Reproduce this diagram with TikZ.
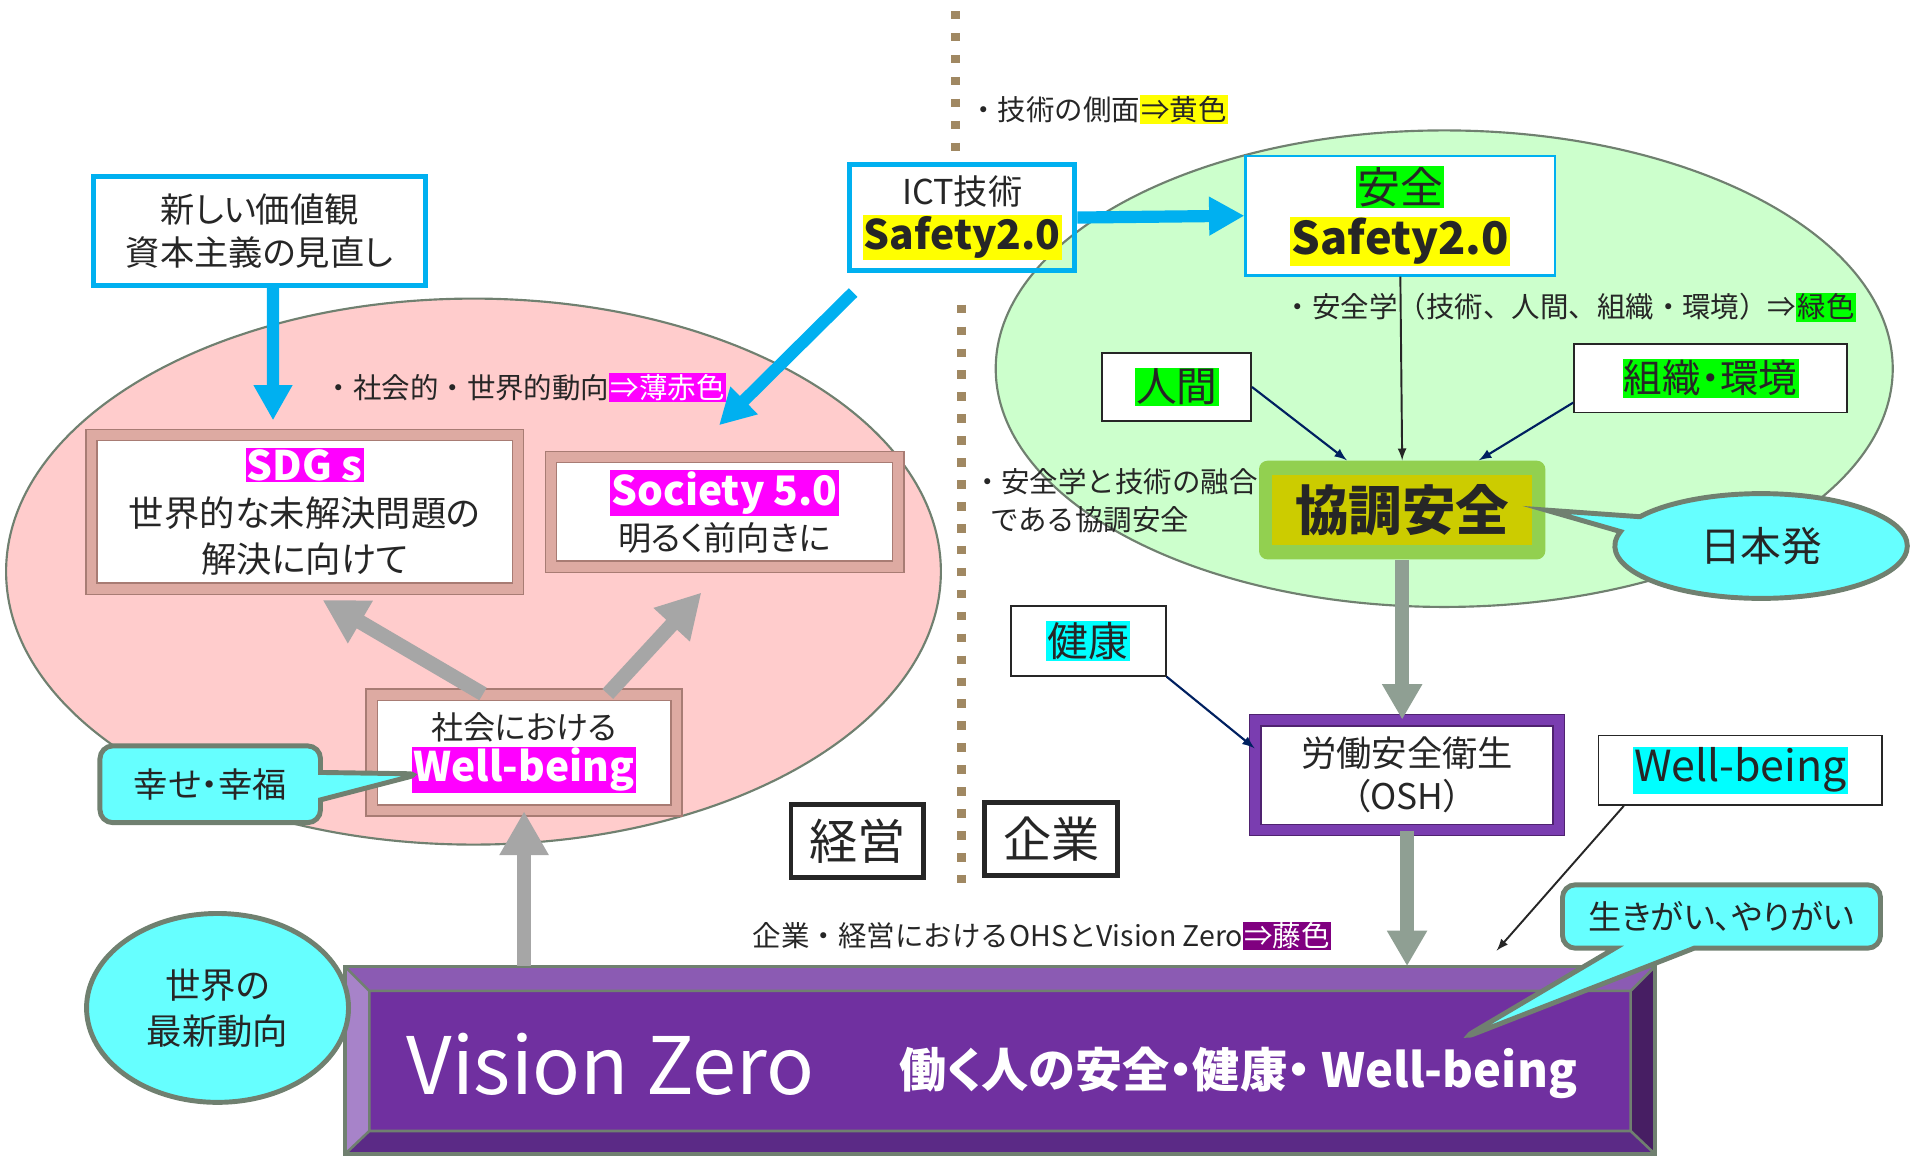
\documentclass[tikz,border=0pt]{standalone}
\usepackage{fontspec}
\setmainfont{Noto Sans CJK JP}[RawFeature=+palt]
\newfontfamily\nopalt{Noto Sans CJK JP}
\usepackage{tikz}
\usepackage{xcolor}
\usetikzlibrary{arrows.meta,shapes.geometric,shapes.callouts}

\definecolor{ink}{HTML}{262626}
\definecolor{skyblue}{HTML}{00B0F0}
\definecolor{pinkfill}{HTML}{FFCCCC}
\definecolor{greenfill}{HTML}{CCFFCC}
\definecolor{ellline}{HTML}{708070}
\definecolor{dotbrown}{HTML}{A08862}
\definecolor{rosyband}{HTML}{DDAAA2}
\definecolor{rosyedge}{HTML}{A87C74}
\definecolor{purpleband}{HTML}{7A3DB0}
\definecolor{purpleedge}{HTML}{4F2270}
\definecolor{kyogreen}{HTML}{92D050}
\definecolor{kyoolive}{HTML}{CCCC00}
\definecolor{calloutfill}{HTML}{66FFFF}
\definecolor{arrowgray}{HTML}{A6A6A6}
\definecolor{sage}{HTML}{8F9F93}
\definecolor{navy}{HTML}{002060}
\definecolor{hlyellow}{HTML}{FFFF00}
\definecolor{hlgreen}{HTML}{00FF00}
\definecolor{hlmag}{HTML}{FF00FF}
\definecolor{hlcyan}{HTML}{00FFFF}
\definecolor{hlpurple}{HTML}{800080}
\definecolor{vzface}{HTML}{7030A0}
\definecolor{vztop}{HTML}{8B5BB3}
\definecolor{vzleft}{HTML}{A783C9}
\definecolor{vzbottom}{HTML}{5B2A86}
\definecolor{vzright}{HTML}{471E63}

\newcommand{\hl}[2]{{\setlength{\fboxsep}{0.6pt}\colorbox{#1}{#2}}}
\newcommand{\fs}[2]{\fontsize{#1}{#2}\selectfont}

\tikzset{
  bluebox/.style={draw=skyblue, line width=2.3pt, align=center, text=ink},
  thinbox/.style={draw=ink, line width=0.85pt, fill=white, text=ink},
  blackbox/.style={draw=ink, line width=2.3pt, fill=white, text=ink},
  rosyframe/.style={draw=rosyedge, line width=0.7pt, double=rosyband, double distance=0.16cm, fill=white, align=center, text=ink},
  purpleframe/.style={draw=purpleedge, line width=0.7pt, double=purpleband, double distance=0.16cm, fill=white, align=center, text=ink},
  callout/.style={draw=ellline, line width=2.3pt, fill=calloutfill, text=ink, align=center},
  note/.style={text=ink, inner sep=0pt, font=\nopalt\fs{13.3}{18}},
  dotline/.style={draw=dotbrown, line width=0.14cm, dash pattern=on 0.14cm off 0.22cm},
  bluearrow/.style={draw=skyblue, line width=0.2cm, -{Triangle[length=0.58cm, width=0.6cm]}},
  grayarrow/.style={draw=arrowgray, line width=0.24cm, -{Triangle[length=0.72cm, width=0.76cm]}},
  sagearrow/.style={draw=sage, line width=0.22cm, -{Triangle[length=0.58cm, width=0.62cm]}},
  navyarrow/.style={draw=navy, line width=1pt, -latex},
  inkarrow/.style={draw=ink, line width=0.9pt, -latex}
}

\begin{document}
\begin{tikzpicture}[x=0.02cm, y=-0.02cm]
  \useasboundingbox (0,0) rectangle (1568,950);

  % background ellipses
  \draw[draw=ellline, fill=pinkfill, line width=1pt] (388.5,469) ellipse [x radius=383.5, y radius=224];
  \draw[draw=ellline, fill=greenfill, line width=1pt] (1185,302.5) ellipse [x radius=368, y radius=195.5];

  % dividing line
  \draw[dotline] (784,9) -- (784,125);
  \draw[dotline] (789,250) -- (789,727);

  % legend texts
  \node[note, anchor=west] (tech) at (795,90) {・技術の側面\hl{hlyellow}{⇒黄色}};
  \node[note, anchor=west] (social) at (266,318) {・社会的・世界的動向\hl{hlmag}{\color{white}⇒薄赤色}};
  \node[note, anchor=west] (safetysci) at (1053,252) {・安全学（技術、人間、組織・環境）⇒\hl{hlgreen}{緑色}};
  \node[note, anchor=west, align=left] (fusion) at (798,411) {・安全学と技術の融合\\\hspace{0.6em}である協調安全};
  \node[note] (ohs) at (855,768) {企業・経営におけるOHSとVision Zero\hl{hlpurple}{\color{white}⇒藤色}};

  % society side
  \node[bluebox, minimum width=5.44cm, minimum height=1.78cm, font=\fs{16}{20}] (values) at (213,189.5) {新しい価値観\\資本主義の見直し};
  \node[rosyframe, minimum width=7cm, minimum height=2.52cm, font=\fs{16.5}{21.5}] (sdgs) at (250,420)
    {{\fs{19}{22}\bfseries\hl{hlmag}{\color{white}SDG s}}\\世界的な未解決問題の\\解決に向けて};
  \node[rosyframe, minimum width=5.7cm, minimum height=1.8cm, font=\fs{15.5}{21}] (society) at (594.5,420)
    {{\fs{19}{22}\bfseries\hl{hlmag}{\color{white}Society 5.0}}\\明るく前向きに};
  \node[rosyframe, minimum width=5cm, minimum height=1.9cm, font=\fs{15}{20}] (socwb) at (430,617.5)
    {社会における\\{\fs{19}{22}\bfseries\hl{hlmag}{\color{white}Well-being}}};

  % technology side
  \node[bluebox, minimum width=3.7cm, minimum height=1.74cm, font=\fs{16}{21}] (ict) at (789.5,178.5)
    {ICT技術\\{\fs{19}{22}\bfseries\hl{hlyellow}{Safety2.0}}};
  \node[draw=skyblue, line width=1.1pt, fill=white, minimum width=5.08cm, minimum height=1.96cm, align=center, text=ink, font=\fs{20}{24}] (safety) at (1149,177)
    {\hl{hlgreen}{安全}\\{\fs{21}{26}\bfseries\hl{hlyellow}{Safety2.0}}};
  \node[thinbox, minimum width=2.44cm, minimum height=1.12cm, font=\fs{19}{22}] (human) at (965.5,317.5) {\hl{hlgreen}{人間}};
  \node[thinbox, minimum width=4.48cm, minimum height=1.12cm, font=\fs{18}{22}] (org) at (1403.5,310.5) {\hl{hlgreen}{組織・環境}};
  \node[fill=kyogreen, rounded corners=4pt, minimum width=4.7cm, minimum height=1.62cm] (kyocho) at (1150.5,418.5) {};
  \node[fill=kyoolive, minimum width=4.26cm, minimum height=1.16cm, text=ink, font=\fs{25}{28}\bfseries] (kyotext) at (kyocho) {協調安全};

  % workplace side
  \node[thinbox, minimum width=2.54cm, minimum height=1.14cm, font=\fs{19}{22}] (health) at (893,526) {\hl{hlcyan}{健康}};
  \node[purpleframe, minimum width=4.98cm, minimum height=1.8cm, font=\fs{16.5}{20}] (osh) at (1154.5,636) {労働安全衛生\\（OSH）};
  \node[thinbox, minimum width=4.66cm, minimum height=1.14cm, font=\fs{20}{24}] (wellbeing) at (1428,632) {\hl{hlcyan}{Well-being}};
  \node[blackbox, minimum width=2.18cm, minimum height=1.2cm, font=\fs{22.5}{26}] (mgmt) at (703.5,690) {経営};
  \node[blackbox, minimum width=2.18cm, minimum height=1.2cm, font=\fs{22.5}{26}] (company) at (862.5,688.5) {企業};

  % Vision Zero block
  \fill[vzface] (303,813) rectangle (1338,928);
  \fill[vztop] (283,793) -- (1358,793) -- (1338,813) -- (303,813) -- cycle;
  \fill[vzleft] (283,793) -- (303,813) -- (303,928) -- (283,947) -- cycle;
  \fill[vzbottom] (283,947) -- (303,928) -- (1338,928) -- (1358,947) -- cycle;
  \fill[vzright] (1358,793) -- (1338,813) -- (1338,928) -- (1358,947) -- cycle;
  \draw[ellline, line width=1.2pt] (303,813) rectangle (1338,928)
    (283,793) -- (303,813) (1358,793) -- (1338,813) (283,947) -- (303,928) (1358,947) -- (1338,928);
  \draw[ellline, line width=1.8pt] (283,793) rectangle (1358,947);
  \node[minimum width=21.5cm, minimum height=3.08cm] (vz) at (820.5,870) {};
  \node[text=white, font=\fs{37}{40}] (vztitle) at (501,873) {Vision Zero};
  \node[text=white, font=\fs{22}{26}\bfseries] (vzsub) at (1016,880) {働く人の安全・健康・ Well-being};

  % callouts
  \coordinate (happytip) at (345,635);
  \coordinate (ikigaitip) at (1200,852);
  \coordinate (wbend) at (1228,780);
  \node[callout, ellipse callout, callout absolute pointer={(kyocho.east)}, callout pointer arc=18, minimum width=4.8cm, minimum height=1.72cm, font=\fs{19}{22}] (japan) at (1445,448) {日本発};
  \node[callout, rectangle callout, rounded corners=6pt, callout absolute pointer={(happytip)}, callout pointer width=0.45cm, minimum width=3.62cm, minimum height=1.26cm, font=\fs{16}{20}] (happy) at (172.5,643.5) {幸せ・幸福};
  \node[callout, rectangle callout, rounded corners=6pt, callout absolute pointer={(ikigaitip)}, callout pointer width=1.3cm, minimum width=5.22cm, minimum height=1.04cm, font=\fs{15.5}{20}] (ikigai) at (1412.5,752) {生きがい、やりがい};
  \node[callout, ellipse, minimum width=4.3cm, minimum height=3.1cm, font=\fs{16.5}{21.5}] (world) at (178.5,827) {世界の\\最新動向};

  % arrows
  \draw[bluearrow] ([xshift=0.22cm]values.south) -- ([xshift=-0.52cm, yshift=0.23cm]sdgs.north);
  \draw[bluearrow] ([xshift=0.1cm, yshift=-0.32cm]ict.south west) -- ([xshift=-0.09cm, yshift=0.51cm]society.north);
  \draw[bluearrow] (ict.east) -- (safety.west);
  \draw[inkarrow] (safety.south) -- (kyocho.north);
  \draw[navyarrow] (human.east) -- (kyocho.138);
  \draw[navyarrow] (org.190) -- (kyocho.33);
  \draw[navyarrow] (health.south east) -- (osh.170);
  \draw[inkarrow] (wellbeing.197) -- (wbend);
  \draw[sagearrow] (kyocho.south) -- (kyocho.south |- osh.north);
  \draw[sagearrow] (osh.south) -- (osh.south |- vz.north);
  \draw[grayarrow] (vz.north -| socwb.south) -- (socwb.south);
  \draw[grayarrow, shorten >=0.34cm] (socwb.125) -- (sdgs.south);
  \draw[grayarrow, shorten >=0.56cm] (socwb.35) -- (society.south);
\end{tikzpicture}
\end{document}
